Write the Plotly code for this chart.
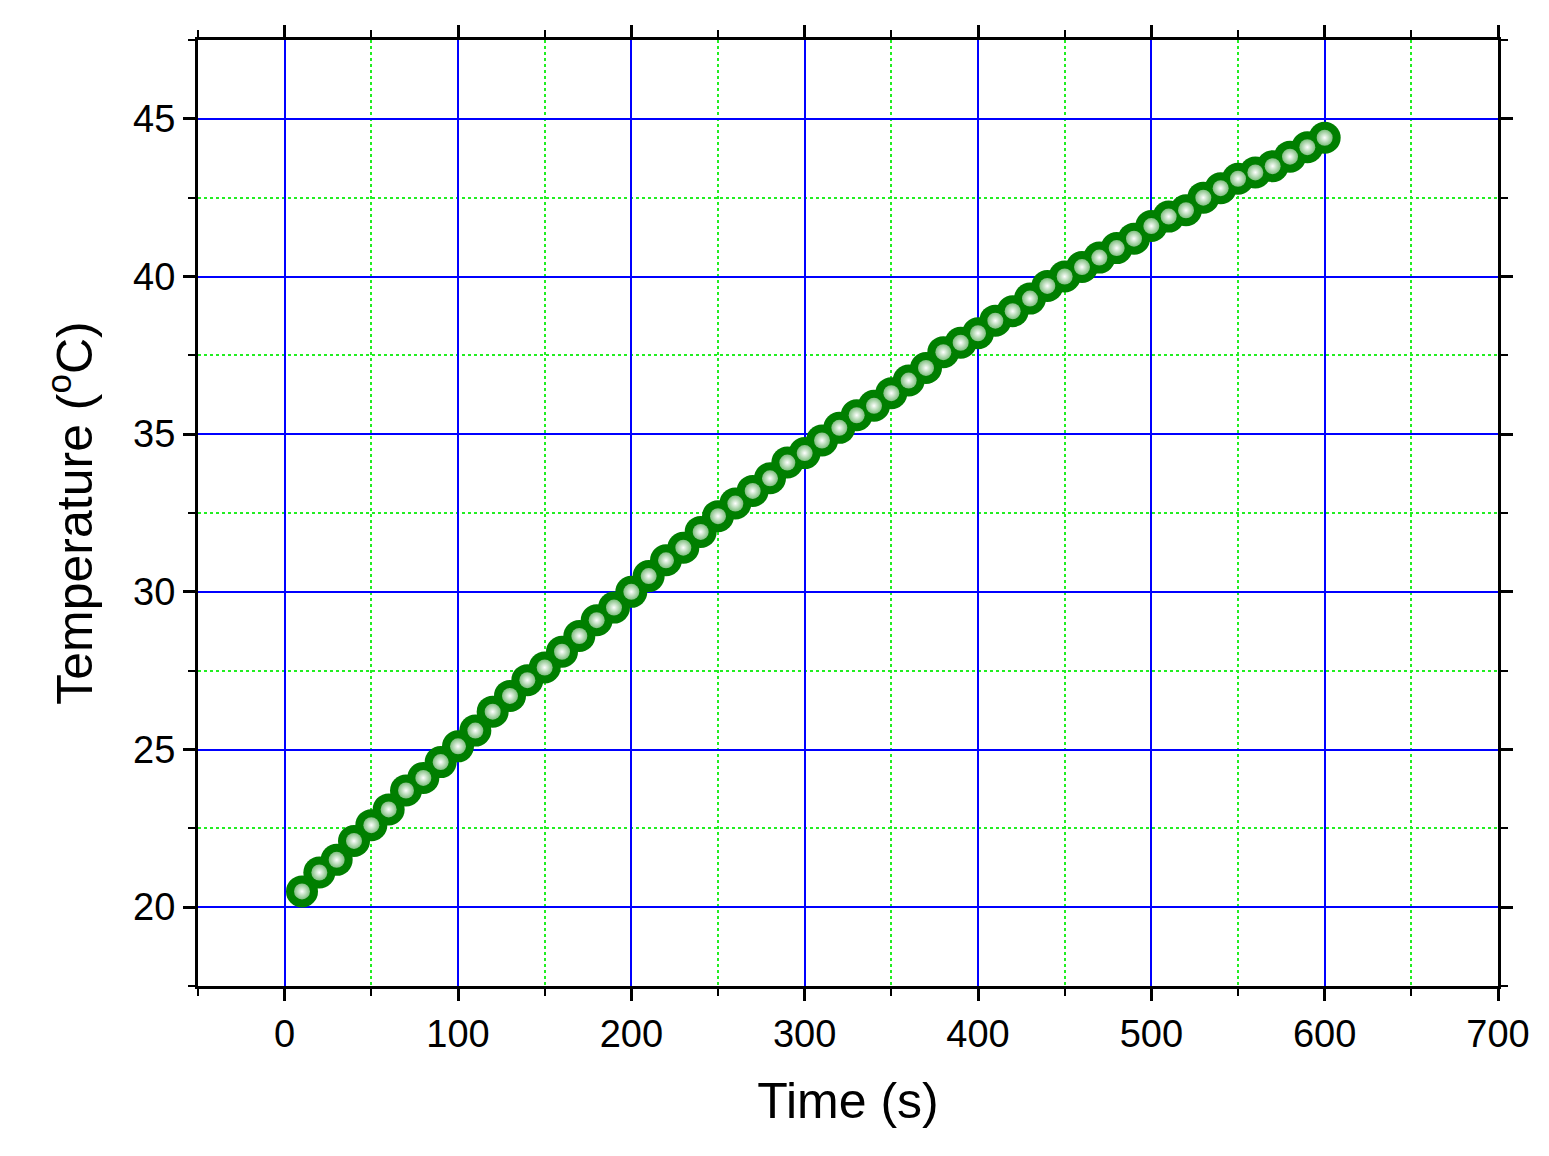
import plotly.graph_objects as go

time_s = list(range(10, 601, 10))
temperature = [20.5,21.1,21.5,22.1,22.6,23.1,23.7,24.1,24.6,25.1,25.6,26.2,26.7,27.2,27.6,28.1,28.6,29.1,29.5,30.0,
               30.5,31.0,31.4,31.9,32.4,32.8,33.2,33.6,34.1,34.4,34.8,35.2,35.6,35.9,36.3,36.7,37.1,37.6,37.9,38.2,
               38.6,38.9,39.3,39.7,40.0,40.3,40.6,40.9,41.2,41.6,41.9,42.1,42.5,42.8,43.1,43.3,43.5,43.8,44.1,44.4]

fig = go.Figure()
fig.add_trace(go.Scatter(x=time_s, y=temperature, mode="markers",
                         marker=dict(size=32, color="#007f00", line=dict(width=0)), showlegend=False))
fig.add_trace(go.Scatter(x=time_s, y=temperature, mode="markers",
                         marker=dict(size=16, color="#7fbf7f", gradient=dict(type="radial", color="white"),
                                     line=dict(width=0)), showlegend=False))

font = dict(family="Liberation Sans, Arial", size=38, color="black")
tfont = dict(family="Liberation Sans, Arial", size=50, color="black")
common = dict(showline=True, linewidth=3, linecolor="black", mirror="ticks", ticks="outside",
              ticklen=12, tickwidth=3, tickcolor="black", tickfont=font, zeroline=False,
              showgrid=True, gridcolor="blue", gridwidth=2, automargin=False,
              minor=dict(ticks="outside", ticklen=7, tickwidth=2, tickcolor="black",
                         showgrid=True, gridcolor="#22ee22", griddash="dot", gridwidth=2))
fig.update_xaxes(range=[-50, 700], dtick=100, tick0=0, minor_dtick=50,
                 title=dict(text="Time (s)", font=tfont, standoff=30), **common)
fig.update_yaxes(range=[17.5, 47.5], dtick=5, tick0=0, minor_dtick=2.5,
                 title=dict(text="Temperature (<sup>o</sup>C)", font=tfont, standoff=25), **common)
fig.update_layout(width=1549, height=1156, margin=dict(l=190, r=59, t=32, b=178),
                  plot_bgcolor="white", paper_bgcolor="white")
fig.write_html("out.html")
